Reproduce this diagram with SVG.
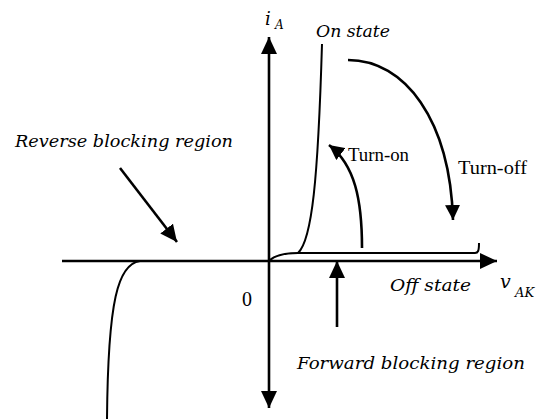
<svg xmlns="http://www.w3.org/2000/svg" width="539" height="419" viewBox="0 0 539 419">
<style>
.ax{fill:none;stroke:#000;stroke-width:2.6}
.cv{fill:none;stroke:#000;stroke-width:2}
.ar{fill:none;stroke:#000;stroke-width:2.6}
.mi{font-family:"DejaVu Serif","Liberation Serif",serif;font-style:italic;fill:#000}
.rm{font-family:"Liberation Serif","Times New Roman",serif;fill:#000}
</style>
<defs>
<marker id="ah" markerUnits="userSpaceOnUse" markerWidth="18" markerHeight="16" refX="17" refY="8" orient="auto-start-reverse" viewBox="0 0 18 16">
<path d="M0,0 L17,8 L0,16 z" fill="#000"/>
</marker>
<marker id="ahs" markerUnits="userSpaceOnUse" markerWidth="16" markerHeight="15" refX="15" refY="7.5" orient="auto" viewBox="0 0 16 15">
<path d="M0,0 L15,7.5 L0,15 z" fill="#000"/>
</marker>
</defs>
<rect width="539" height="419" fill="#fff"/>
<g id="axes">
<line class="ax" x1="269" y1="408" x2="269" y2="37" marker-start="url(#ah)" marker-end="url(#ah)"/>
<line class="ax" x1="62" y1="261" x2="497" y2="261" marker-end="url(#ah)"/>
</g>
<g id="curves">
<path id="off-state-curve" class="cv" d="M269,261 C275,255 285,253 298,253 L475,253 C478,253 479,251 479,243"/>
<path id="on-state-curve" class="cv" d="M298,253 C312,240 318,180 322,44"/>
<path id="reverse-curve" class="cv" d="M140,261 C118,264 108,300 107,419"/>
</g>
<g id="connectors">
<path id="turn-on-arrow" class="ar" d="M362,248 C362,200 355,165 329,145" marker-end="url(#ahs)"/>
<path id="turn-off-arrow" class="ar" d="M348,60 C405,60 450,120 453,220" marker-end="url(#ahs)"/>
<line id="reverse-arrow" class="ar" x1="120" y1="168" x2="177" y2="242" marker-end="url(#ah)"/>
<line id="forward-arrow" class="ar" x1="337" y1="327" x2="337" y2="261" marker-end="url(#ah)"/>
</g>
<g id="labels">
<g id="label-iA"><text class="mi" x="265" y="25" font-size="18">i</text><text class="mi" x="275" y="29" font-size="12">A</text></g>
<text id="label-on" class="mi" x="316" y="37" font-size="16" textLength="74" lengthAdjust="spacingAndGlyphs">On state</text>
<text id="label-reverse" class="mi" x="15" y="147" font-size="17.5" textLength="218" lengthAdjust="spacingAndGlyphs">Reverse blocking region</text>
<text id="label-turnon" class="rm" x="348" y="161" font-size="18" textLength="61" lengthAdjust="spacingAndGlyphs">Turn-on</text>
<text id="label-turnoff" class="rm" x="458" y="174" font-size="18" textLength="69" lengthAdjust="spacingAndGlyphs">Turn-off</text>
<text id="label-zero" class="rm" x="242" y="306" font-size="20">0</text>
<text id="label-off" class="mi" x="390" y="291" font-size="17" textLength="81" lengthAdjust="spacingAndGlyphs">Off state</text>
<g id="label-vAK"><text class="mi" x="500" y="288" font-size="19">v</text><text class="mi" x="515" y="297" font-size="13">AK</text></g>
<text id="label-forward" class="mi" x="297" y="369" font-size="17.5" textLength="228" lengthAdjust="spacingAndGlyphs">Forward blocking region</text>
</g>
</svg>
